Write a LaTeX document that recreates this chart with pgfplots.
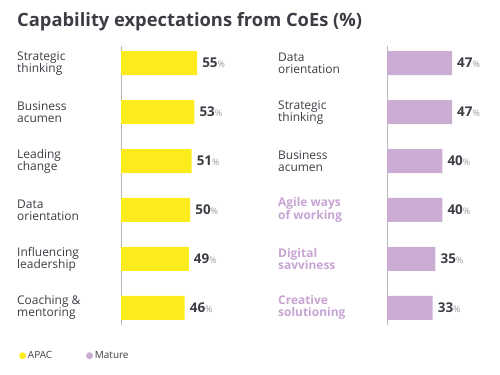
\documentclass[border=0pt]{standalone}
\usepackage{fontspec}
\setmainfont{Open Sans}
\usepackage{pgfplots}
\pgfplotsset{compat=1.18}
\definecolor{ylw}{HTML}{FCEC1E}
\definecolor{prp}{HTML}{CBADD4}
\definecolor{prptxt}{HTML}{C7A3D2}
\definecolor{txt}{HTML}{3C3C44}
\definecolor{pct}{HTML}{9A9A9A}
\definecolor{axl}{HTML}{B8B8B8}
\pgfplotsset{panel/.style={
  xbar, scale only axis, width=83bp, height=279bp,
  xmin=0, xmax=60, ymin=-0.35, ymax=5.35, y dir=reverse,
  bar width=24bp, axis x line=none, axis y line*=left,
  y axis line style={axl, line width=1pt},
  ytick={0,...,5}, major tick length=0pt, clip=false,
  /pgf/number format/assume math mode=true,
  yticklabel style={anchor=west, align=left, inner sep=0pt, xshift=-104bp,
     font=\fontsize{12}{12}\selectfont, text=txt},
  nodes near coords={\textbf{\pgfmathprintnumber{\pgfplotspointmeta}}{\color{pct}\fontsize{9}{9}\selectfont\%}},
  nodes near coords style={anchor=west, xshift=5bp, inner sep=0pt,
     font=\fontsize{13.5}{14}\selectfont, text=txt},
}}
\begin{document}
\begin{tikzpicture}
\path[use as bounding box] (0,0) rectangle (500bp,375bp);
\node[anchor=base west, inner sep=0pt, font=\fontsize{18.4}{18.4}\selectfont\bfseries, text=txt]
  at (17bp,348bp) {Capability expectations from CoEs (\%)};
\begin{axis}[panel, at={(121bp,50bp)}, anchor=south west,
  yticklabels={{Strategic\\thinking},{Business\\acumen},{Leading\\change},{Data\\orientation},{Influencing\\leadership},{Coaching \&\\mentoring}},
  legend style={at={(axis description cs:-1.265,-0.11)}, anchor=west, draw=none, fill=none,
     legend columns=2, font=\fontsize{10}{10}\selectfont, text=txt,
     /tikz/every even column/.append style={column sep=32bp}}]
\addplot[fill=ylw, draw=none, bar shift=0pt, forget plot] coordinates {(55,0) (53,1) (51,2) (50,3) (49,4) (46,5)};
\addlegendimage{legend image code/.code={\fill[ylw] (0bp,0bp) circle (3.2bp);}}
\addlegendentry{APAC}
\addlegendimage{legend image code/.code={\fill[prp] (0bp,0bp) circle (3.2bp);}}
\addlegendentry{Mature}
\end{axis}
\begin{axis}[panel, at={(387bp,50bp)}, anchor=south west,
  yticklabel style={xshift=-5bp},
  yticklabels={{Data\\orientation},{Strategic\\thinking},{Business\\acumen},{\textcolor{prptxt}{\bfseries Agile ways}\\\textcolor{prptxt}{\bfseries of working}},{\textcolor{prptxt}{\bfseries Digital}\\\textcolor{prptxt}{\bfseries savviness}},{\textcolor{prptxt}{\bfseries Creative}\\\textcolor{prptxt}{\bfseries solutioning}}}]
\addplot[fill=prp, draw=none, bar shift=0pt] coordinates {(47,0) (47,1) (40,2) (40,3) (35,4) (33,5)};
\end{axis}
\end{tikzpicture}
\end{document}
